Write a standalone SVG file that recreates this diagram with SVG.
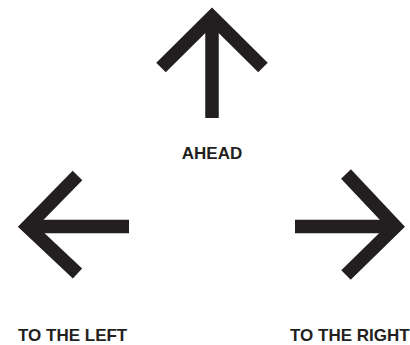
<svg xmlns="http://www.w3.org/2000/svg" width="410" height="345" viewBox="0 0 410 345">
<style>
.arr{fill:none;stroke:#231f20;stroke-width:13.5;stroke-linejoin:miter;stroke-miterlimit:10;stroke-linecap:butt}
.lbl{font-family:"Liberation Sans",Arial,sans-serif;font-weight:bold;font-size:17px;fill:#231f20}
</style>
<rect width="410" height="345" fill="#fff"/>
<g id="ahead">
<polyline class="arr" points="161,67.5 212,17 263,67.5"/>
<line class="arr" x1="212" y1="20" x2="212" y2="118"/>
<text class="lbl" x="212" y="159" text-anchor="middle">AHEAD</text>
</g>
<g id="left">
<polyline class="arr" points="77.5,175.5 27.5,226.5 77.5,273.5"/>
<line class="arr" x1="30" y1="226.5" x2="129" y2="226.5"/>
<text class="lbl" x="18" y="341">TO THE LEFT</text>
</g>
<g id="right">
<polyline class="arr" points="346,174 395.5,226.5 346,275"/>
<line class="arr" x1="295" y1="226.5" x2="393" y2="226.5"/>
<text class="lbl" x="290" y="341">TO THE RIGHT</text>
</g>
</svg>
